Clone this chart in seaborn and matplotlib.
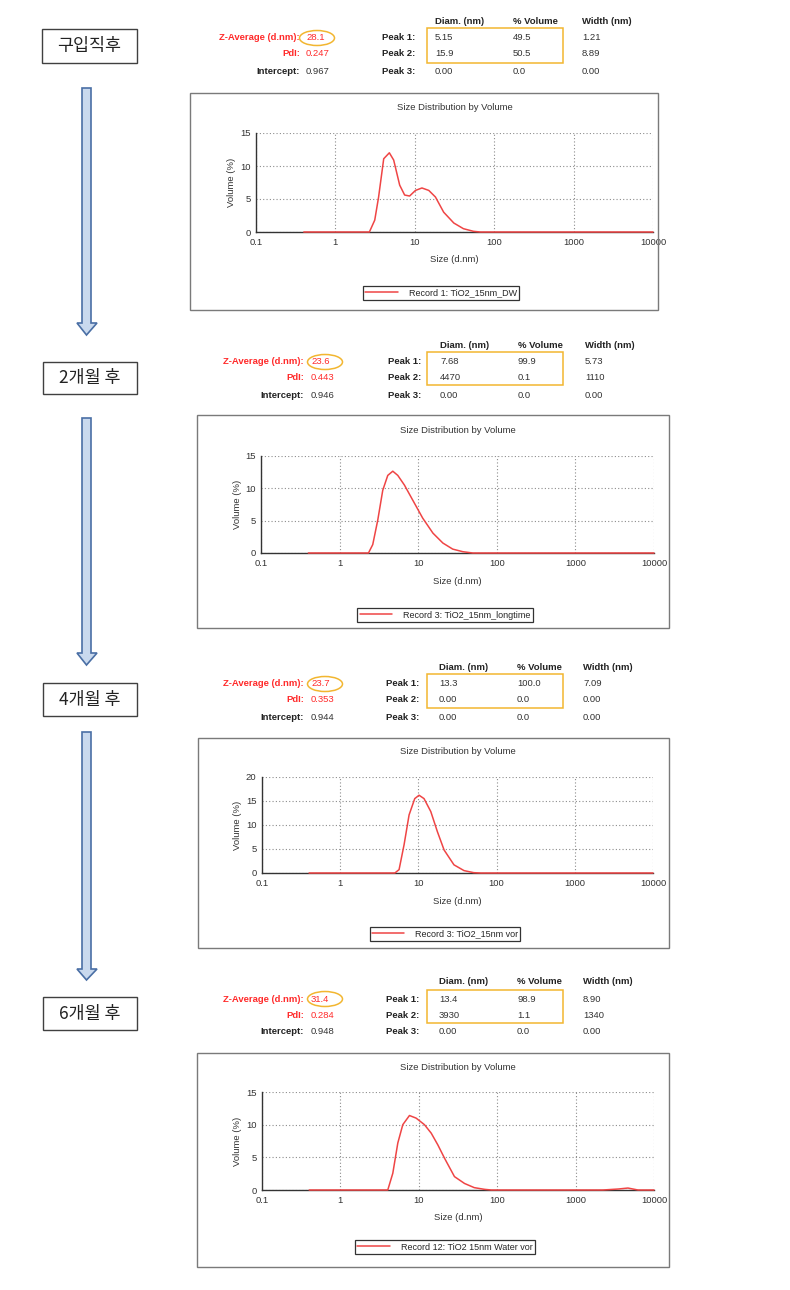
import numpy as np
import pandas as pd
import matplotlib
matplotlib.use("Agg")
import matplotlib.pyplot as plt
import seaborn as sns
from matplotlib.patches import Rectangle, Ellipse, Polygon
from matplotlib.ticker import LogLocator, NullFormatter, MultipleLocator

# ---------------- data ----------------
stage_labels = ["구입직후", "2개월 후", "4개월 후", "6개월 후"]
record_names = ["Record 1: TiO2_15nm_DW", "Record 3: TiO2_15nm_longtime",
                "Record 3: TiO2_15nm vor", "Record 12: TiO2 15nm Water vor"]
z_average = ["28.1", "23.6", "23.7", "31.4"]
pdi = ["0.247", "0.443", "0.353", "0.284"]
intercept = ["0.967", "0.946", "0.944", "0.948"]
peak_diam = [["5.15", "15.9", "0.00"], ["7.68", "4470", "0.00"],
             ["13.3", "0.00", "0.00"], ["13.4", "3930", "0.00"]]
peak_volume = [["49.5", "50.5", "0.0"], ["99.9", "0.1", "0.0"],
               ["100.0", "0.0", "0.0"], ["98.9", "1.1", "0.0"]]
peak_width = [["1.21", "8.89", "0.00"], ["5.73", "1110", "0.00"],
              ["7.09", "0.00", "0.00"], ["8.90", "1340", "0.00"]]
y_max = [15, 15, 20, 15]
x_tick_values = [0.1, 1, 10, 100, 1000, 10000]
x_tick_labels = ["0.1", "1", "10", "100", "1000", "10000"]

size_1 = [0.4, 2.68, 3.13, 3.5, 4.06, 4.78, 5.42, 6.45, 7.45, 8.6, 10.2, 12.3,
          15.0, 18.2, 23.1, 31.0, 41.0, 55.0, 67.0, 10000]
vol_1 = [0, 0, 1.8, 5.3, 11.1, 12.0, 10.9, 7.1, 5.6, 5.45, 6.3, 6.67,
         6.3, 5.3, 3.0, 1.36, 0.5, 0.1, 0, 0]

size_2 = [0.4, 2.33, 2.64, 3.06, 3.54, 4.1, 4.75, 5.5, 6.68, 8.5, 11.4, 15.4,
          20.6, 27.5, 37.0, 49.5, 10000]
vol_2 = [0, 0, 1.3, 5.1, 9.7, 12.0, 12.65, 12.0, 10.5, 8.2, 5.4, 3.07,
         1.54, 0.6, 0.2, 0, 0]

size_3 = [0.4, 5.0, 5.66, 6.56, 7.6, 8.98, 10.2, 11.8, 14.4, 17.5, 21.3, 28.5,
          38.3, 51.0, 62.5, 10000]
vol_3 = [0, 0, 0.7, 5.9, 12.1, 15.5, 16.2, 15.5, 12.8, 8.6, 4.8, 1.7,
         0.5, 0.07, 0, 0]

size_4 = [0.4, 4.02, 4.66, 5.4, 6.25, 7.6, 9.25, 11.8, 14.4, 17.5, 21.3, 28.5,
          38.3, 51.0, 69.0, 84.0, 2230, 3500, 4650, 6250, 10000]
vol_4 = [0, 0, 2.56, 7.2, 10.0, 11.4, 11.0, 10.0, 8.7, 6.9, 4.86, 2.05,
         1.0, 0.36, 0.1, 0, 0, 0.15, 0.3, 0, 0]

sizes = [size_1, size_2, size_3, size_4]
vols = [vol_1, vol_2, vol_3, vol_4]

# ---------------- style ----------------
sns.set_style("white")
plt.rcParams['font.family'] = ['Liberation Sans', 'Noto Sans CJK KR', 'DejaVu Sans']

W, H = 790, 1290
fig = plt.figure(figsize=(W / 100, H / 100), dpi=100)
fig.patch.set_facecolor("white")


def fx(x):
    return x / W


def fy(y):
    return 1 - y / H


RED = "#ef4545"
TXT_RED = "#ff2a2a"
DARK = "#222222"
ORANGE = "#f2b630"
FS = 6.8
LEG_FS = 6.5

# layout (pixels)
charts = [
    dict(box=(190, 93, 658, 310), ax=(256, 133, 653, 232), title=107, xlab=260, ylab=232, leg=(441, 293)),
    dict(box=(197, 415, 669, 628), ax=(261, 456, 654, 553), title=431, xlab=582, ylab=238, leg=(445, 615)),
    dict(box=(198, 738, 669, 948), ax=(262, 777, 653, 873), title=752, xlab=902, ylab=238, leg=(445, 934)),
    dict(box=(197, 1053, 669, 1267), ax=(262, 1092, 654, 1190), title=1068, xlab=1217, ylab=238, leg=(445, 1247)),
]
headers = [
    dict(hy=21, rows=(38, 54, 72), zr=300, val=306, ell=(317, 38), pr=415, cols=(435, 513, 582), obox=(427, 28, 563, 63)),
    dict(hy=345, rows=(362, 378, 396), zr=304, val=311, ell=(325, 362), pr=421, cols=(440, 518, 585), obox=(427, 352, 563, 385)),
    dict(hy=667, rows=(683, 700, 717), zr=304, val=311, ell=(325, 684), pr=419, cols=(439, 517, 583), obox=(427, 674, 563, 708)),
    dict(hy=982, rows=(999, 1016, 1032), zr=304, val=311, ell=(325, 999), pr=419, cols=(439, 517, 583), obox=(427, 990, 563, 1023)),
]
stage_boxes = [(42, 29, 137, 63), (43, 362, 137, 394), (43, 683, 137, 716), (43, 997, 137, 1030)]
arrows = [(88, 323, 335), (418, 653, 665), (732, 969, 980)]

# ---------------- charts ----------------
for i, c in enumerate(charts):
    l, t, r, b = c["ax"]
    ax = fig.add_axes([fx(l), fy(b), (r - l) / W, (b - t) / H])
    ax.set_xscale("log")
    df = pd.DataFrame({"size": sizes[i], "vol": vols[i]})
    sns.lineplot(data=df, x="size", y="vol", ax=ax, color=RED, linewidth=1.1,
                 label=record_names[i], estimator=None, sort=False, zorder=4)
    ax.lines[0].set_clip_on(False)
    ax.set_xlim(0.1, 10000)
    ax.set_ylim(0, y_max[i])
    ax.set_xticks(x_tick_values, labels=x_tick_labels)
    ax.xaxis.set_minor_locator(LogLocator(base=10, subs=range(2, 10)))
    ax.xaxis.set_minor_formatter(NullFormatter())
    ax.set_yticks(list(range(0, y_max[i] + 1, 5)))
    ax.yaxis.set_minor_locator(MultipleLocator(2.5))
    ax.grid(True, which="major", color="#8c8c8c", linestyle=(0, (1, 2)), linewidth=0.8)
    for s in ["top", "right"]:
        ax.spines[s].set_visible(False)
    for s in ["left", "bottom"]:
        ax.spines[s].set_color("#333333")
        ax.spines[s].set_linewidth(1.0)
    ax.tick_params(which="major", direction="inout", length=4, width=0.8, color="#333333",
                   labelsize=FS, labelcolor="#333333", pad=2)
    ax.tick_params(which="minor", direction="inout", length=2.5, width=0.8, color="#333333")
    ax.set_title("Size Distribution by Volume", fontsize=FS, color="#333333",
                 y=(b - c["title"]) / (b - t), va="center", pad=0)
    ax.set_xlabel("Size (d.nm)", fontsize=FS, color="#333333")
    ax.xaxis.set_label_coords(fx((l + r) / 2), fy(c["xlab"]), transform=fig.transFigure)
    ax.xaxis.label.set_va("center")
    ax.set_ylabel("Volume (%)", fontsize=FS, color="#333333")
    ax.yaxis.set_label_coords(fx(c["ylab"]), fy((t + b) / 2), transform=fig.transFigure)
    ax.yaxis.label.set_va("center")
    leg = ax.legend(loc="center", bbox_to_anchor=(fx(c["leg"][0]), fy(c["leg"][1])),
                    bbox_transform=fig.transFigure, fontsize=LEG_FS, frameon=True, fancybox=False,
                    edgecolor="#333333", handlelength=3.6, handletextpad=1.2, borderpad=0.25,
                    borderaxespad=0, framealpha=1)
    leg.get_frame().set_linewidth(0.9)
    bl, bt, br, bb = c["box"]
    fig.add_artist(Rectangle((fx(bl), fy(bb)), (br - bl) / W, (bb - bt) / H,
                             transform=fig.transFigure, fill=False, ec="#7a7a7a", lw=1.0))

# ---------------- headers ----------------
for i, h in enumerate(headers):
    r1, r2, r3 = h["rows"]
    c1, c2, c3 = h["cols"]
    kw = dict(fontsize=FS, va="center")
    fig.text(fx(c1), fy(h["hy"]), "Diam. (nm)", color=DARK, weight="bold", ha="left", **kw)
    fig.text(fx(c2), fy(h["hy"]), "% Volume", color=DARK, weight="bold", ha="left", **kw)
    fig.text(fx(c3), fy(h["hy"]), "Width (nm)", color=DARK, weight="bold", ha="left", **kw)
    fig.text(fx(h["zr"]), fy(r1), "Z-Average (d.nm):", color=TXT_RED, weight="bold", ha="right", **kw)
    fig.text(fx(h["zr"]), fy(r2), "PdI:", color=TXT_RED, weight="bold", ha="right", **kw)
    fig.text(fx(h["zr"]), fy(r3), "Intercept:", color=DARK, weight="bold", ha="right", **kw)
    fig.text(fx(h["val"]), fy(r1), z_average[i], color=TXT_RED, ha="left", **kw)
    fig.text(fx(h["val"]), fy(r2), pdi[i], color=TXT_RED, ha="left", **kw)
    fig.text(fx(h["val"]), fy(r3), intercept[i], color="#333333", ha="left", **kw)
    for k, ry in enumerate(h["rows"]):
        fig.text(fx(h["pr"]), fy(ry), f"Peak {k + 1}:", color=DARK, weight="bold", ha="right", **kw)
        fig.text(fx(c1), fy(ry), peak_diam[i][k], color="#333333", ha="left", **kw)
        fig.text(fx(c2), fy(ry), peak_volume[i][k], color="#333333", ha="left", **kw)
        fig.text(fx(c3), fy(ry), peak_width[i][k], color="#333333", ha="left", **kw)
    ol, ot, orr, ob = h["obox"]
    fig.add_artist(Rectangle((fx(ol), fy(ob)), (orr - ol) / W, (ob - ot) / H,
                             transform=fig.transFigure, fill=False, ec=ORANGE, lw=1.1))
    ex, ey = h["ell"]
    fig.add_artist(Ellipse((fx(ex), fy(ey)), 35 / W, 15 / H, transform=fig.transFigure,
                           fill=False, ec=ORANGE, lw=1.1))

# ---------------- stage labels and arrows ----------------
for i, (l, t, r, b) in enumerate(stage_boxes):
    fig.add_artist(Rectangle((fx(l), fy(b)), (r - l) / W, (b - t) / H, transform=fig.transFigure,
                             fill=True, fc="white", ec="#404040", lw=1.0))
    fig.text(fx((l + r) / 2), fy((t + b) / 2), stage_labels[i], ha="center", va="center",
             fontsize=12.5, color="#222222", family=["Noto Sans CJK KR", "DejaVu Sans"])

for top, hs, tip in arrows:
    pts = [(82, top), (91, top), (91, hs), (97, hs), (86.5, tip), (77, hs), (82, hs)]
    fig.add_artist(Polygon([(fx(x), fy(y)) for x, y in pts], closed=True, transform=fig.transFigure,
                           fc="#c9d9ee", ec="#4a6fa5", lw=1.2))

fig.savefig("out.png", dpi=100)
